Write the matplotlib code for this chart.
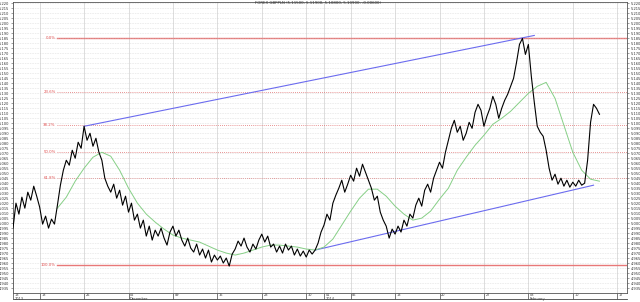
import numpy as np
import pandas as pd
import matplotlib
matplotlib.use("Agg")
import matplotlib.pyplot as plt
from matplotlib.transforms import offset_copy

# -------------------------- DATOS --------------------------
# 3 cierres por sesion, desde 2013-11-13
precio = [
    4.995, 5.020, 5.009, 5.026, 5.015, 5.031, 5.023, 5.037, 5.027, 5.016,
    4.999, 5.007, 4.995, 5.004, 4.999, 5.018, 5.038, 5.053, 5.063, 5.058,
    5.073, 5.065, 5.081, 5.075, 5.097, 5.083, 5.090, 5.077, 5.085, 5.071,
    5.063, 5.045, 5.037, 5.031, 5.039, 5.025, 5.033, 5.018, 5.027, 5.011,
    5.020, 5.003, 5.009, 4.995, 5.003, 4.987, 4.997, 4.983, 4.993, 4.987,
    4.995, 4.985, 4.978, 4.991, 4.997, 4.987, 4.993, 4.983, 4.977, 4.985,
    4.975, 4.971, 4.979, 4.968, 4.974, 4.965, 4.973, 4.961, 4.968, 4.963,
    4.967, 4.960, 4.965, 4.957, 4.969, 4.974, 4.982, 4.977, 4.985, 4.976,
    4.971, 4.979, 4.974, 4.983, 4.989, 4.981, 4.987, 4.976, 4.979, 4.971,
    4.977, 4.970, 4.979, 4.973, 4.977, 4.968, 4.974, 4.967, 4.972, 4.966,
    4.973, 4.969, 4.973, 4.980, 4.991, 4.998, 5.009, 5.003, 5.020, 5.028,
    5.035, 5.043, 5.031, 5.039, 5.048, 5.042, 5.055, 5.047, 5.059, 5.051,
    5.043, 5.035, 5.023, 5.027, 5.011, 5.003, 4.997, 4.985, 4.994, 4.989,
    4.997, 4.991, 5.003, 4.997, 5.009, 5.005, 5.018, 5.025, 5.017, 5.033,
    5.039, 5.031, 5.045, 5.053, 5.061, 5.055, 5.071, 5.083, 5.095, 5.103,
    5.091, 5.097, 5.083, 5.090, 5.101, 5.095, 5.111, 5.119, 5.113, 5.097,
    5.107, 5.115, 5.127, 5.119, 5.105, 5.115, 5.123, 5.129, 5.137, 5.145,
    5.161, 5.179, 5.185, 5.169, 5.179, 5.147, 5.121, 5.097, 5.091, 5.087,
    5.073, 5.055, 5.043, 5.049, 5.039, 5.045, 5.037, 5.043, 5.036, 5.041,
    5.037, 5.043, 5.038, 5.040, 5.063, 5.101, 5.119, 5.115, 5.109,
]
# media movil (1 valor por sesion, desde la sesion 5)
media = [
    5.015, 5.026, 5.042, 5.055, 5.066, 5.071, 5.067, 5.053, 5.035, 5.020,
    5.009, 5.001, 4.994, 4.988, 4.985, 4.983, 4.981, 4.977, 4.973, 4.970,
    4.968, 4.970, 4.973, 4.976, 4.978, 4.978, 4.977, 4.976, 4.974, 4.973,
    4.976, 4.984, 4.998, 5.012, 5.025, 5.034, 5.034, 5.027, 5.017, 5.009,
    5.003, 5.005, 5.012, 5.024, 5.035, 5.053, 5.066, 5.078, 5.088, 5.099,
    5.105, 5.112, 5.121, 5.130, 5.137, 5.141, 5.125, 5.098, 5.071, 5.053,
    5.044, 5.042,
]
media_inicio = 5

# canal: (indice de vela, precio)
canal_sup = [(24, 5.097), (176, 5.188)]
canal_inf = [(102, 4.973), (196, 5.038)]

# Fibonacci
fib_max, fib_min = 5.185, 4.958
fib_ratios = [0.0, 0.236, 0.382, 0.5, 0.618, 1.0]
fib_labels = ["0.0%", "23.6%", "38.2%", "50.0%", "61.8%", "100.0%"]

titulo = "FOREX GBPPLN (5.11500, 5.11900, 5.10800, 5.10900, -0.00600)"
sesiones = pd.bdate_range("2013-11-13", "2014-02-18")

# -------------------------- FIGURA --------------------------
fig = plt.figure(figsize=(6.4, 3.02), dpi=100)
ax = fig.add_axes([13 / 640, 9 / 302, 614 / 640, 291 / 302])

x_p = np.arange(len(precio)) / 3.0
x_m = np.arange(len(media)) + media_inicio

ax.plot(x_m, media, color="#86cf86", lw=0.7, zorder=3)
ax.plot(x_p, precio, color="black", lw=0.8, zorder=4)

for canal in (canal_sup, canal_inf):
    xs = [c[0] / 3.0 for c in canal]
    ys = [c[1] for c in canal]
    ax.plot(xs, ys, color="#6b6bef", lw=0.8, zorder=2)

rango = fib_max - fib_min
for r, lab in zip(fib_ratios, fib_labels):
    nivel = fib_max - r * rango
    if r in (0.0, 1.0):
        ax.plot([5.0, 69.1], [nivel, nivel], color="#e87878", lw=1.0, zorder=1)
    else:
        ax.plot([5.0, 69.1], [nivel, nivel], color="#e07070", lw=0.6, ls=(0, (1, 1.5)), zorder=1)
    ax.text(4.8, nivel, lab, color="#e05050", fontsize=2.8, ha="right", va="center")

ax.set_xlim(0, 69.1)
ax.set_ylim(4.930, 5.2215)

# eje Y
yt = np.arange(4.935, 5.2201, 0.005)
ax.set_yticks(yt)
ax.set_yticklabels([f"{v:.3f}" for v in yt])
ax.tick_params(axis="y", labelsize=2.6, labelcolor="#333333", length=1.5, width=0.4,
               right=True, labelright=True, pad=1, color="#555555")
ax.grid(axis="y", color="#c8c8c8", lw=0.4, ls=(0, (1, 2)))

# eje X: lunes + inicio de anio
pos_ticks, lab_ticks = [], []
for i, d in enumerate(sesiones):
    extra = ""
    if i == 0:
        extra = "\n2013"
    elif d.month == 1 and d.day == 1:
        extra = "\n2014"
    elif d.weekday() == 0 and d.day <= 7 and d.month != 1:
        extra = "\n" + d.strftime("%B")
    if i == 0 or d.weekday() == 0 or (d.month == 1 and d.day == 1):
        pos_ticks.append(i)
        lab_ticks.append(f"{d.day:02d}" + extra)
ax.set_xticks(pos_ticks)
ax.set_xticklabels(lab_ticks)
ax.tick_params(axis="x", labelsize=2.5, labelcolor="#333333", length=4.3, width=0.5,
               pad=0, color="#444444")
for t in ax.get_xticklabels():
    t.set_ha("left")
    t.set_va("top")
    t.set_linespacing(0.95)
    t.set_transform(offset_copy(t.get_transform(), fig=fig, x=1.5, y=5.5, units="dots"))
for p in pos_ticks:
    ax.axvline(p, color="#d0d0d0", lw=0.5, zorder=0)
ax.plot([0, 1], [-6 / 291, -6 / 291], transform=ax.transAxes, color="#444444",
        lw=0.6, clip_on=False)

for s in ax.spines.values():
    s.set_color("#555555")
    s.set_linewidth(0.6)

fig.text(0.497, 0.997, titulo, fontsize=2.8, ha="center", va="top", color="#333333")

plt.savefig("out.png", dpi=100)
plt.close()
